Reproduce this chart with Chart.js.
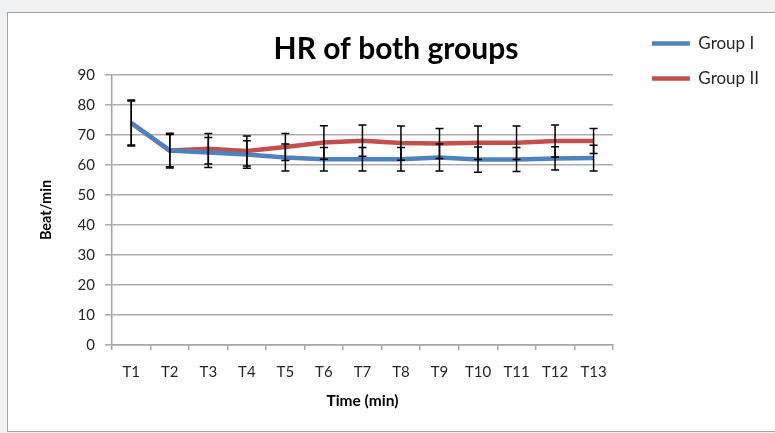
<!DOCTYPE html>
<html>
<head>
<meta charset="utf-8">
<script src="https://cdn.jsdelivr.net/npm/chart.js@4/dist/chart.umd.min.js"></script>
<style>
  html, body { margin: 0; padding: 0; background: #f1f2f4; overflow: hidden; }
  #frame {
    position: absolute; left: 7px; top: 12px;
    width: 790px; height: 418px;
    background: #fff; border: 1px solid #a6a6a6;
  }
  #wrap { position: absolute; left: 0; top: 0; width: 776px; height: 418px; }
</style>
</head>
<body>
<div id="frame"><div id="wrap"><canvas id="graph"></canvas></div></div>
<script>
// categories and values
const times = ["T1", "T2", "T3", "T4", "T5", "T6", "T7", "T8", "T9", "T10", "T11", "T12", "T13"];
const groupI = [74, 64.8, 64.2, 63.5, 62.5, 61.9, 61.9, 61.9, 62.5, 61.8, 61.8, 62.2, 62.3];
const groupII = [74, 64.8, 65.4, 64.7, 66, 67.5, 68.1, 67.3, 67.2, 67.4, 67.4, 68, 68];
// standard deviations (error bars)
const sdI = [7.7, 5.4, 5.0, 4.6, 4.5, 3.9, 3.9, 3.9, 4.5, 4.2, 4.0, 3.9, 4.3];
const sdII = [7.3, 5.8, 5.1, 5.0, 4.5, 5.6, 5.2, 5.7, 5.0, 5.6, 5.6, 5.3, 4.2];
const yTicks = [0, 10, 20, 30, 40, 50, 60, 70, 80, 90];

const ctx = document.getElementById("graph").getContext('2d');
const font = "Lato";

// draws black +/- sd bars for every dataset
const errorBars = {
    id: 'errorBars',
    afterDatasetsDraw(chart) {
        const x = chart.scales.x;
        const y = chart.scales.y;
        const c = chart.ctx;
        c.save();
        c.strokeStyle = '#000';
        c.lineWidth = 1.5;
        chart.data.datasets.forEach(function (ds) {
            ds.data.forEach(function (v, i) {
                const px = x.getPixelForValue(i);
                const top = y.getPixelForValue(v + ds.sd[i]);
                const bot = y.getPixelForValue(v - ds.sd[i]);
                c.beginPath();
                c.moveTo(px, top); c.lineTo(px, bot);
                c.moveTo(px - 4, top); c.lineTo(px + 4, top);
                c.moveTo(px - 4, bot); c.lineTo(px + 4, bot);
                c.stroke();
            });
        });
        c.restore();
    }
};

const chart = new Chart(ctx, {
    type: 'line',
    data: {
        labels: times,
        datasets: [
            { label: 'Group I', data: groupI, sd: sdI, borderColor: '#4F81BD', backgroundColor: '#4F81BD', borderWidth: 4.5, pointRadius: 0, tension: 0 },
            { label: 'Group II', data: groupII, sd: sdII, borderColor: '#C0504D', backgroundColor: '#C0504D', borderWidth: 4.5, pointRadius: 0, tension: 0 }
        ]
    },
    options: {
        responsive: true,
        maintainAspectRatio: false,
        animation: false,
        layout: { padding: { top: 4, left: 15, right: 15, bottom: 0 } },
        plugins: {
            title: {
                display: true,
                text: 'HR of both groups',
                color: '#000',
                font: { family: font, size: 30, weight: 'bold' },
                padding: { top: 14, bottom: 8 }
            },
            legend: {
                position: 'right',
                align: 'start',
                maxWidth: 170,
                labels: {
                    usePointStyle: true,
                    pointStyle: 'line',
                    pointStyleWidth: 38,
                    padding: 18,
                    color: '#262626',
                    font: { family: font, size: 17 }
                }
            },
            tooltip: { enabled: false }
        },
        scales: {
            x: {
                offset: true,
                grid: { display: true, drawOnChartArea: false, color: '#a6a6a6', lineWidth: 1.5, tickLength: 5, offset: true },
                border: { color: '#a6a6a6', width: 1.5 },
                ticks: { color: '#262626', font: { family: font, size: 15 }, padding: 13, maxRotation: 0 },
                title: { display: true, text: 'Time (min)', color: '#000', font: { family: font, size: 15.5, weight: 'bold' }, padding: { top: 0, bottom: 21 } },
                afterFit: function (s) { s.height = 86; }
            },
            y: {
                min: 0,
                max: 90,
                afterBuildTicks: function (s) { s.ticks = yTicks.map(v => ({ value: v })); },
                grid: { color: '#adadad', lineWidth: 1.6, tickLength: 7 },
                border: { color: '#a6a6a6', width: 1.5 },
                ticks: { color: '#262626', font: { family: font, size: 15 }, padding: 10 },
                title: { display: true, text: 'Beat/min', color: '#000', font: { family: font, size: 14.5, weight: 'bold' }, padding: { top: 15, bottom: 0 } },
                afterFit: function (s) { s.width = 89; }
            },
            gap: {
                position: 'right',
                display: true,
                grid: { display: false },
                border: { display: false },
                ticks: { display: false },
                afterFit: function (s) { s.width = 21; }
            }
        }
    },
    plugins: [errorBars]
});
</script>
</body>
</html>
